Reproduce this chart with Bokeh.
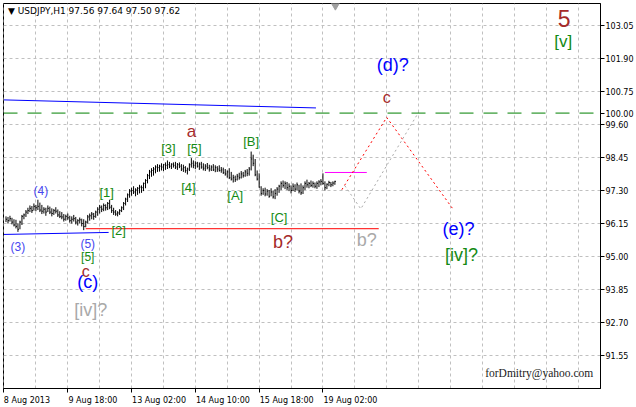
from bokeh.plotting import figure
from bokeh.models import ColumnDataSource, FixedTicker, Span, Range1d, PrintfTickFormatter
from bokeh.core.properties import value
from bokeh.embed import file_html
from bokeh.resources import INLINE

# ---------------- data ----------------
symbol = "USDJPY,H1"
last_ohlc = [97.56, 97.64, 97.50, 97.62]

highs = [96.40, 96.38, 96.42, 96.35, 96.30, 96.28, 96.15, 96.25, 96.45, 96.50,
         96.62, 96.70, 96.78, 96.76, 96.85, 96.80, 96.98, 96.88, 96.80, 96.72,
         96.70, 96.78, 96.74, 96.68, 96.66, 96.72, 96.64, 96.58, 96.55, 96.48,
         96.46, 96.50, 96.42, 96.40, 96.45, 96.38, 96.30, 96.36, 96.32, 96.30,
         96.25, 96.45, 96.50, 96.55, 96.52, 96.60, 96.72, 96.80, 96.78, 96.85,
         96.82, 96.90, 96.98, 96.80, 96.70, 96.62, 96.58, 96.65, 96.75, 96.90,
         97.05, 97.20, 97.35, 97.40, 97.45, 97.38, 97.42, 97.50, 97.48, 97.58,
         97.70, 97.88, 98.02, 98.08, 98.12, 98.18, 98.22, 98.20, 98.25, 98.22,
         98.28, 98.35, 98.30, 98.25, 98.28, 98.30, 98.26, 98.28, 98.22, 98.20,
         98.15, 98.10, 98.25, 98.43, 98.35, 98.32, 98.30, 98.28, 98.30, 98.25,
         98.22, 98.26, 98.20, 98.18, 98.22, 98.18, 98.15, 98.18, 98.12, 98.10,
         98.05, 98.00, 98.08, 97.95, 97.85, 97.82, 97.88, 97.92, 97.98, 97.95,
         98.02, 98.05, 98.12, 98.66, 98.55, 98.40, 98.00, 97.90, 97.45, 97.38,
         97.40, 97.35, 97.32, 97.38, 97.30, 97.35, 97.42, 97.50, 97.62, 97.65,
         97.62, 97.60, 97.55, 97.48, 97.55, 97.52, 97.58, 97.50, 97.55, 97.48,
         97.62, 97.68, 97.60, 97.65, 97.62, 97.58, 97.62, 97.66, 97.70, 97.90,
         97.62, 97.55, 97.64, 97.60, 97.62, 97.64]
lows = [96.20, 96.15, 96.22, 96.12, 96.05, 95.98, 95.86, 95.95, 96.10, 96.30,
        96.38, 96.48, 96.55, 96.52, 96.60, 96.58, 96.62, 96.55, 96.48, 96.50,
        96.42, 96.55, 96.48, 96.40, 96.45, 96.50, 96.38, 96.34, 96.30, 96.22,
        96.25, 96.28, 96.18, 96.15, 96.22, 96.12, 96.08, 96.15, 96.05, 95.92,
        96.02, 96.15, 96.25, 96.30, 96.28, 96.35, 96.42, 96.50, 96.55, 96.58,
        96.60, 96.62, 96.65, 96.52, 96.45, 96.42, 96.40, 96.45, 96.55, 96.62,
        96.78, 96.90, 97.05, 97.12, 97.18, 97.10, 97.15, 97.20, 97.22, 97.28,
        97.38, 97.55, 97.70, 97.78, 97.82, 97.90, 97.95, 97.96, 98.00, 97.98,
        98.02, 98.05, 98.08, 98.05, 98.10, 98.05, 98.02, 98.08, 97.98, 97.95,
        97.92, 97.86, 97.98, 98.10, 98.08, 98.05, 98.10, 98.02, 98.06, 98.00,
        97.98, 98.04, 97.96, 97.98, 97.98, 97.94, 97.95, 97.96, 97.92, 97.88,
        97.82, 97.75, 97.70, 97.65, 97.58, 97.60, 97.65, 97.68, 97.72, 97.75,
        97.78, 97.80, 97.82, 98.00, 98.15, 97.80, 97.65, 97.40, 97.12, 97.15,
        97.10, 97.12, 97.05, 97.10, 97.02, 97.00, 97.12, 97.22, 97.32, 97.40,
        97.35, 97.32, 97.28, 97.20, 97.28, 97.25, 97.30, 97.20, 97.15, 97.18,
        97.32, 97.40, 97.38, 97.42, 97.40, 97.38, 97.36, 97.42, 97.48, 97.50,
        97.30, 97.35, 97.45, 97.42, 97.45, 97.50]
closes = [96.30, 96.25, 96.32, 96.20, 96.10, 96.05, 95.95, 96.20, 96.40, 96.45,
          96.55, 96.60, 96.68, 96.60, 96.75, 96.70, 96.75, 96.62, 96.58, 96.65,
          96.55, 96.68, 96.55, 96.50, 96.60, 96.58, 96.45, 96.40, 96.38, 96.30,
          96.40, 96.35, 96.25, 96.30, 96.32, 96.20, 96.25, 96.28, 96.15, 96.05,
          96.20, 96.38, 96.42, 96.48, 96.40, 96.55, 96.65, 96.72, 96.65, 96.78,
          96.70, 96.85, 96.72, 96.60, 96.55, 96.48, 96.52, 96.60, 96.70, 96.85,
          97.00, 97.15, 97.28, 97.30, 97.25, 97.32, 97.38, 97.42, 97.40, 97.55,
          97.65, 97.82, 97.95, 98.00, 98.05, 98.12, 98.10, 98.15, 98.12, 98.20,
          98.18, 98.20, 98.15, 98.22, 98.18, 98.12, 98.20, 98.15, 98.05, 98.10,
          98.00, 98.05, 98.20, 98.25, 98.18, 98.25, 98.15, 98.22, 98.12, 98.08,
          98.15, 98.10, 98.05, 98.12, 98.02, 98.10, 98.05, 98.00, 98.02, 97.92,
          97.88, 97.95, 97.75, 97.70, 97.75, 97.68, 97.80, 97.75, 97.88, 97.82,
          97.95, 97.90, 98.05, 98.40, 98.25, 97.85, 97.70, 97.42, 97.20, 97.30,
          97.18, 97.28, 97.10, 97.25, 97.08, 97.20, 97.35, 97.45, 97.55, 97.48,
          97.55, 97.40, 97.45, 97.30, 97.45, 97.35, 97.50, 97.28, 97.22, 97.40,
          97.55, 97.50, 97.55, 97.48, 97.55, 97.45, 97.55, 97.60, 97.62, 97.55,
          97.40, 97.52, 97.58, 97.50, 97.56, 97.62]
bar_index = list(range(1, len(closes) + 1))

time_tick_bars = [0, 32, 64, 96, 128, 160]
time_labels = ["8 Aug 2013", "9 Aug 18:00", "13 Aug 02:00", "14 Aug 10:00", "15 Aug 18:00", "19 Aug 02:00"]
price_ticks = [91.55, 92.70, 93.85, 95.00, 96.15, 97.30, 98.45, 99.60, 100.75, 101.90, 103.05]

# analysis lines
upper_trend_x = [0, 156.5]
upper_trend_y = [100.46, 100.18]
lower_trend_x = [0, 52.5]
lower_trend_y = [95.77, 95.84]
support_x = [41, 188]
support_y = [95.97, 95.97]
magenta_x = [161, 182]
magenta_y = [97.93, 97.93]
level_price = 100.00
red_path_x = [169.5, 192, 225.5]
red_path_y = [97.33, 99.85, 96.63]
gray_path_x = [171, 179, 208]
gray_path_y = [97.47, 96.66, 100.03]

# wave labels
lab_text = ["(4)", "(3)", "(5)", "[5]", "c", "(c)", "[iv]?", "[1]", "[2]", "[3]", "[5]", "a",
            "[4]", "[B]", "[A]", "[C]", "b?", "b?", "(d)?", "c", "(e)?", "[iv]?", "5", "[v]"]
lab_x = [18.5, 7, 42, 42, 41, 42, 43.5, 51.5, 57.5, 82.5, 95.5, 94,
         92.5, 124, 116, 138, 140, 182, 195, 192, 228, 229.5, 281, 280.5]
lab_y = [97.28, 95.33, 95.45, 94.97, 94.49, 94.11, 93.12, 97.24, 95.91, 98.76, 98.76, 99.36,
         97.41, 99.01, 97.13, 96.37, 95.50, 95.56, 101.66, 100.55, 95.97, 95.07, 103.28, 102.50]
BLUE_S = "#4646f0"
BLUE = "#0000ff"
GREEN = "#138a13"
DRED = "#a52a2a"
GRAY = "#a9a9a9"
lab_color = [BLUE_S, BLUE_S, BLUE_S, GREEN, DRED, BLUE, GRAY, GREEN, GREEN, GREEN, GREEN, DRED,
             GREEN, GREEN, GREEN, GREEN, DRED, GRAY, BLUE, DRED, BLUE, GREEN, DRED, GREEN]
lab_size = ["12px", "12px", "12px", "12px", "16px", "18px", "18px", "13px", "13px", "13px", "13px", "17px",
            "13px", "13px", "13px", "13px", "18px", "18px", "18px", "16px", "18px", "18px", "23px", "17px"]

# ---------------- figure ----------------
W, H = 636, 407
X0, X1 = -0.25, 299.25
Y0, Y1 = 90.40, 103.82
p = figure(width=W, height=H, x_range=Range1d(X0, X1), y_range=Range1d(Y0, Y1),
           y_axis_location="right", output_backend="svg", toolbar_location=None,
           min_border_left=3, min_border_top=3, min_border_right=34, min_border_bottom=19)
p.background_fill_color = "white"
p.border_fill_color = "white"
p.outline_line_color = "black"
p.outline_line_width = 1

AX_FONT = "DejaVu Sans"
AX_SIZE = "8px"

# price axis (includes the price of the horizontal level line)
yaxis = p.yaxis[0]
yaxis.ticker = FixedTicker(ticks=sorted(price_ticks + [level_price]))
yaxis.formatter = PrintfTickFormatter(format="%.2f")
yaxis.major_tick_out = 4
yaxis.major_tick_in = 0
yaxis.minor_tick_line_color = None
yaxis.axis_line_color = "black"
yaxis.major_tick_line_color = "black"
yaxis.major_label_standoff = 1
yaxis.major_label_text_font = AX_FONT
yaxis.major_label_text_font_size = AX_SIZE
yaxis.major_label_text_color = "black"

# bottom axis: labels start at their tick (as in the reference)
frame_w = W - 3 - 34
px_per_bar = frame_w / (X1 - X0)
label_pos = []
for b, t in zip(time_tick_bars, time_labels):
    half = 0.5 * len(t) * 4.6
    label_pos.append(round(b + half / px_per_bar, 1))
xaxis = p.xaxis[0]
xaxis.ticker = FixedTicker(ticks=label_pos, minor_ticks=time_tick_bars)
xaxis.major_label_overrides = {pos: t for pos, t in zip(label_pos, time_labels)}
xaxis.major_tick_line_color = None
xaxis.major_tick_out = 0
xaxis.major_tick_in = 0
xaxis.minor_tick_line_color = "black"
xaxis.minor_tick_out = 4
xaxis.minor_tick_in = 0
xaxis.axis_line_color = "black"
xaxis.major_label_standoff = 3
xaxis.major_label_text_font = AX_FONT
xaxis.major_label_text_font_size = AX_SIZE
xaxis.major_label_text_color = "black"

p.xgrid.ticker = FixedTicker(ticks=list(range(0, 300, 16)))
p.ygrid.ticker = FixedTicker(ticks=price_ticks)
for g in (p.xgrid[0], p.ygrid[0]):
    g.grid_line_color = "#c0c0c0"
    g.grid_line_dash = "3 3"
    g.grid_line_width = 1

# level line at 100.00
p.add_layout(Span(location=level_price, dimension="width", line_color="#008000",
                  line_dash="14 10", line_width=1))

# trend lines
p.line(upper_trend_x, upper_trend_y, line_color="#0000ff", line_width=1)
p.line(lower_trend_x, lower_trend_y, line_color="#0000ff", line_width=1)
p.line(support_x, support_y, line_color="#ff0000", line_width=1)
p.line(magenta_x, magenta_y, line_color="#ff00ff", line_width=1)
p.line(red_path_x, red_path_y, line_color="#ff0000", line_width=1, line_dash="2 3")
p.line(gray_path_x, gray_path_y, line_color="#a9a9a9", line_width=1, line_dash="2 3")

# price bars (high-low line with a close tick, as drawn at this chart scale)
src = ColumnDataSource(dict(
    x=bar_index, high=highs, low=lows, close=closes,
    xr=[i + 0.5 for i in bar_index]))
p.segment(x0="x", y0="low", x1="x", y1="high", source=src, line_color="black", line_width=1)
p.segment(x0="x", y0="close", x1="xr", y1="close", source=src, line_color="black", line_width=1)

# chart-shift marker
p.scatter(x=[166.25], y=[103.75], marker="inverted_triangle", size=8,
          fill_color="#a0a0a0", line_color="#a0a0a0")

# wave labels
lsrc = ColumnDataSource(dict(x=lab_x, y=lab_y, text=lab_text, color=lab_color, size=lab_size))
p.text(x="x", y="y", text="text", source=lsrc, text_color="color", text_font_size="size",
       text_font=value("Liberation Sans"), text_align="center", text_baseline="middle")

# title
title_text = "\u25bc " + symbol + "  " + " ".join(f"{v:.2f}" for v in last_ohlc)
p.text(x=[2], y=[103.57], text=[title_text], text_font=value(AX_FONT), text_font_size="9px",
       text_color="black", text_align="left", text_baseline="middle")

# signature
p.text(x=[268.5], y=[90.94], text=["forDmitry@yahoo.com"], text_font=value("Liberation Serif"),
       text_font_size="11.5px", text_color="#1a1a1a", text_align="center", text_baseline="middle")

open("out.html", "w").write(file_html(p, INLINE))
